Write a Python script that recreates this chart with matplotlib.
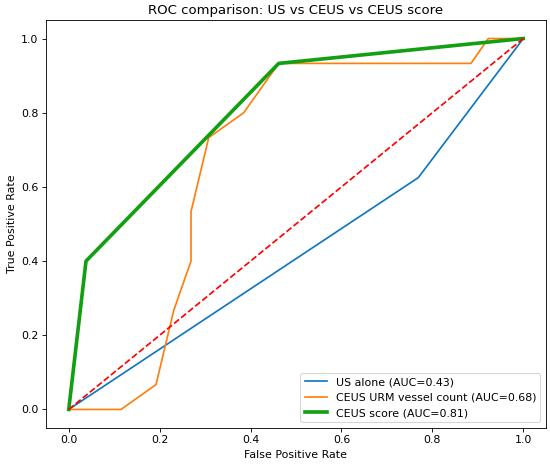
import numpy as np
import matplotlib
matplotlib.use("Agg")
import matplotlib.pyplot as plt

# ROC points
us_fpr = [0.0, 0.769, 1.0]
us_tpr = [0.0, 0.625, 1.0]

urm_fpr = [0.0, 0.115, 0.192, 0.231, 0.269, 0.269, 0.308, 0.385, 0.462, 0.885, 0.923, 1.0]
urm_tpr = [0.0, 0.0, 0.067, 0.267, 0.400, 0.533, 0.733, 0.800, 0.933, 0.933, 1.0, 1.0]

score_fpr = [0.0, 0.038, 0.462, 1.0]
score_tpr = [0.0, 0.400, 0.933, 1.0]

labels = ["US alone (AUC=0.43)",
          "CEUS URM vessel count (AUC=0.68)",
          "CEUS score (AUC=0.81)"]

plt.rcParams["font.size"] = 10.3

dpi = 77
fig = plt.figure(figsize=(550 / dpi, 464 / dpi), dpi=dpi)
ax = fig.add_axes([46 / 550, 1 - 428 / 464, 500 / 550, 408 / 464])

ax.plot(us_fpr, us_tpr, color="#0f78bd", linewidth=1.6, label=labels[0])
ax.plot(urm_fpr, urm_tpr, color="#ff7f0e", linewidth=1.6, label=labels[1])
ax.plot(score_fpr, score_tpr, color="#12a012", linewidth=3.4, label=labels[2])
ax.plot([0, 1], [0, 1], "r--", linewidth=1.6)

ax.set_title("ROC comparison: US vs CEUS vs CEUS score")
ax.set_xlabel("False Positive Rate")
ax.set_ylabel("True Positive Rate")
ax.legend(loc="lower right")

fig.savefig("out.png", dpi=dpi)
